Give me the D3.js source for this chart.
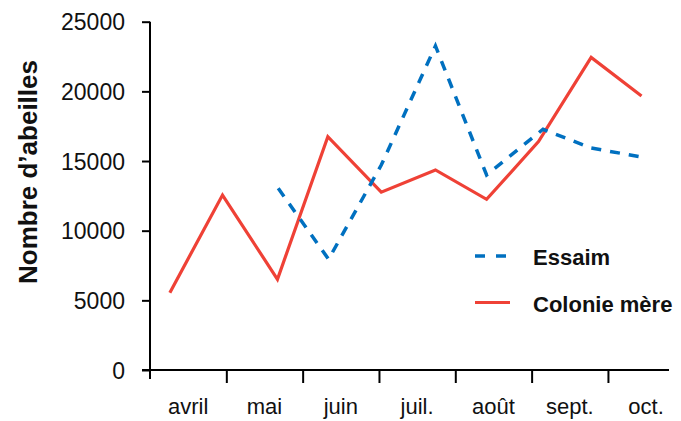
<!DOCTYPE html>
<html>
<head>
<meta charset="utf-8">
<script src="https://cdn.jsdelivr.net/npm/d3@7"></script>
<style>
  body { margin: 0; background: #fff; }
  svg { font-family: "Liberation Sans", Arial, sans-serif; }
</style>
</head>
<body>
<div id="chart"></div>
<script>
// months from 1 April, one unit per month
const monthLabels = ["avril", "mai", "juin", "juil.", "août", "sept.", "oct."];
const yTicks = [0, 5000, 10000, 15000, 20000, 25000];

const colonieTimes = [0.26, 0.95, 1.67, 2.33, 3.03, 3.74, 4.41, 5.09, 5.78, 6.44];
const colonieValues = [5550, 12560, 6510, 16750, 12760, 14360, 12250, 16390, 22440, 19670];

const essaimTimes = [1.68, 2.34, 3.03, 3.74, 4.41, 5.15, 5.78, 6.44];
const essaimValues = [13040, 7950, 14710, 23260, 14000, 17280, 15930, 15290];

const seriesNames = ["Essaim", "Colonie mère"];
const seriesColors = ["#0070c0", "#ef4136"];

const width = 681;
const height = 421;

const svg = d3.select("#chart")
  .append("svg")
  .attr("width", width)
  .attr("height", height);

const x = d3.scaleLinear().domain([0, 6.8]).range([150, 669]);
const y = d3.scaleLinear().domain([0, 25000]).range([370, 21.7]);

// y axis
const yAxis = svg.append("g")
  .attr("transform", `translate(${x(0)},0)`)
  .call(d3.axisLeft(y).tickValues(yTicks).tickSize(8).tickPadding(17).tickFormat(d3.format("d")));
yAxis.select(".domain").attr("d", `M0,${y(25000)}V${y(0) + 9}`);
yAxis.selectAll("line, .domain").attr("stroke", "#000").attr("stroke-width", 2);
yAxis.selectAll("text").attr("font-size", 23).attr("fill", "#111").attr("dy", "0.36em");

// x axis: ticks at month boundaries, labels in between
const xAxis = svg.append("g")
  .attr("transform", `translate(0,${y(0)})`)
  .call(d3.axisBottom(x).tickValues(d3.range(1, 7)).tickSize(13).tickFormat(""));
xAxis.select(".domain").attr("d", `M${x(0) - 8},0H${x(6.8)}`);
xAxis.selectAll("line, .domain").attr("stroke", "#000").attr("stroke-width", 2);

svg.append("g")
  .selectAll("text")
  .data(monthLabels)
  .join("text")
  .attr("x", (d, i) => x(i + 0.5))
  .attr("y", 414)
  .attr("text-anchor", "middle")
  .attr("font-size", 22)
  .attr("fill", "#111")
  .text(d => d);

// axis title
svg.append("text")
  .attr("transform", "translate(37,172) rotate(-90)")
  .attr("text-anchor", "middle")
  .attr("font-size", 26)
  .attr("font-weight", "bold")
  .attr("fill", "#111")
  .text("Nombre d’abeilles");

const line = d3.line()
  .x(d => x(d[0]))
  .y(d => y(d[1]));

svg.append("path")
  .datum(d3.zip(colonieTimes, colonieValues))
  .attr("fill", "none")
  .attr("stroke", seriesColors[1])
  .attr("stroke-width", 3.2)
  .attr("d", line);

svg.append("path")
  .datum(d3.zip(essaimTimes, essaimValues))
  .attr("fill", "none")
  .attr("stroke", seriesColors[0])
  .attr("stroke-width", 3.5)
  .attr("stroke-dasharray", "10,9")
  .attr("d", line);

// legend
const legend = svg.append("g")
  .selectAll("g")
  .data(seriesNames)
  .join("g")
  .attr("transform", (d, i) => `translate(475,${256 + i * 46.5})`);

legend.append("line")
  .attr("x1", 0)
  .attr("x2", (d, i) => i === 0 ? 31 : 35)
  .attr("stroke", (d, i) => seriesColors[i])
  .attr("stroke-width", (d, i) => i === 0 ? 3.5 : 3.2)
  .attr("stroke-dasharray", (d, i) => i === 0 ? "10,11" : null);

legend.append("text")
  .attr("x", 58)
  .attr("y", 9)
  .attr("font-size", 22)
  .attr("font-weight", "bold")
  .attr("fill", "#111")
  .text(d => d);
</script>
</body>
</html>
